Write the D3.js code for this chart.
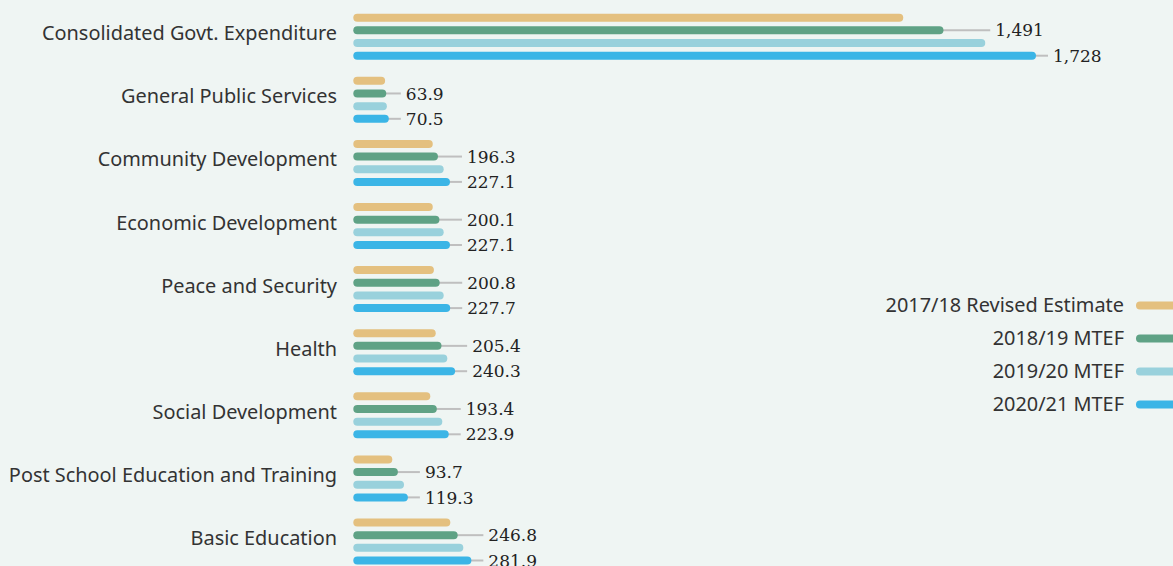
<!DOCTYPE html>
<html>
<head>
<meta charset="utf-8">
<script src="https://cdn.jsdelivr.net/npm/d3@7"></script>
<style>
  html, body { margin: 0; padding: 0; background: #eff5f3; }
  svg { display: block; }
</style>
</head>
<body>
<svg id="chart" width="1173" height="566"></svg>
<script>
// Spending by function (R billion)
const categories = [
  "Consolidated Govt. Expenditure",
  "General Public Services",
  "Community Development",
  "Economic Development",
  "Peace and Security",
  "Health",
  "Social Development",
  "Post School Education and Training",
  "Basic Education"
];
const seriesNames = ["2017/18 Revised Estimate", "2018/19 MTEF", "2019/20 MTEF", "2020/21 MTEF"];
const revised1718 = [1388, 61, 183, 183, 186, 190.6, 176.7, 79.4, 228];
const mtef1819    = [1491, 63.9, 196.3, 200.1, 200.8, 205.4, 193.4, 93.7, 246.8];
const mtef1920    = [1598, 65.5, 211, 211, 211, 220.3, 207.5, 109.4, 261.3];
const mtef2021    = [1728, 70.5, 227.1, 227.1, 227.7, 240.3, 223.9, 119.3, 281.9];
const seriesValues = [revised1718, mtef1819, mtef1920, mtef2021];
const labelledSeries = [1, 3];   // series whose values are printed
const colors = ["#e4c07f", "#5fa285", "#99d1dc", "#3bb5e6"];

const svg = d3.select("#chart");
const barW = 8;

const x = d3.scaleLinear()
  .domain([0, d3.max(seriesValues.flat())])
  .range([357.3, 1032]);

const yGroup = d3.scaleBand()
  .domain(categories)
  .range([5.7, 5.7 + 63.1 * categories.length])
  .padding(0);

const yInner = d3.scalePoint()
  .domain(d3.range(seriesNames.length))
  .range([12, 50]);

const rows = [];
categories.forEach((c, i) => {
  seriesValues.forEach((vals, s) => {
    rows.push({ cat: c, ci: i, s, v: vals[i], y: yGroup(c) + yInner(s) });
  });
});

// category labels
svg.append("g")
  .selectAll("text")
  .data(categories)
  .join("text")
  .attr("x", 337)
  .attr("y", d => yGroup(d) + 31 + 3.5)
  .attr("text-anchor", "end")
  .attr("font-family", "'Noto Sans', sans-serif")
  .attr("font-size", 19.9)
  .attr("fill", "#333")
  .text(d => d);

// value label positions: a little past the own bar, clear of the bars the
// text overlaps, and aligned within a group when the two are close
const offset = 21, clearGap = 10;
const labels = [];
categories.forEach((c, i) => {
  const group = labelledSeries.map(s => {
    const neighbours = [s - 1, s + 1].filter(k => k >= 0 && k < seriesValues.length);
    const own = x(seriesValues[s][i]);
    const clear = d3.max(neighbours, k => x(seriesValues[k][i])) + barW / 2 + clearGap;
    return {
      ci: i, s, v: seriesValues[s][i],
      y: yGroup(c) + yInner(s),
      x0: own,
      tx: Math.max(own + offset, clear)
    };
  });
  const [a, b] = group;
  if (Math.abs(a.tx - b.tx) < 20) {
    const m = Math.max(a.tx, b.tx);
    a.tx = m; b.tx = m;
  }
  labels.push(...group);
});

// leader lines
svg.append("g")
  .selectAll("line")
  .data(labels)
  .join("line")
  .attr("x1", d => d.x0)
  .attr("x2", d => d.tx - 5)
  .attr("y1", d => d.y)
  .attr("y2", d => d.y)
  .attr("stroke", "#bfbfbf")
  .attr("stroke-width", 2);

// bars
svg.append("g")
  .selectAll("line")
  .data(rows)
  .join("line")
  .attr("x1", x(0))
  .attr("x2", d => x(d.v))
  .attr("y1", d => d.y)
  .attr("y2", d => d.y)
  .attr("stroke", d => colors[d.s])
  .attr("stroke-width", barW)
  .attr("stroke-linecap", "round");

// value labels
const fmt = v => v >= 1000 ? d3.format(",.0f")(v) : d3.format(".1f")(v);
svg.append("g")
  .selectAll("text")
  .data(labels)
  .join("text")
  .attr("x", d => d.tx)
  .attr("y", d => d.y)
  .attr("dy", "0.36em")
  .attr("font-family", "'DejaVu Serif', serif")
  .attr("font-size", 17)
  .attr("fill", "#222")
  .text(d => fmt(d.v));

// legend
const legend = svg.append("g")
  .selectAll("g")
  .data(seriesNames)
  .join("g")
  .attr("transform", (d, i) => `translate(0, ${305.5 + 33 * i})`);

legend.append("text")
  .attr("x", 1124)
  .attr("y", 6)
  .attr("text-anchor", "end")
  .attr("font-family", "'Noto Sans', sans-serif")
  .attr("font-size", 19.9)
  .attr("fill", "#333")
  .text(d => d);

legend.append("line")
  .attr("x1", 1140)
  .attr("x2", 1190)
  .attr("y1", 0)
  .attr("y2", 0)
  .attr("stroke", (d, i) => colors[i])
  .attr("stroke-width", barW)
  .attr("stroke-linecap", "round");
</script>
</body>
</html>
